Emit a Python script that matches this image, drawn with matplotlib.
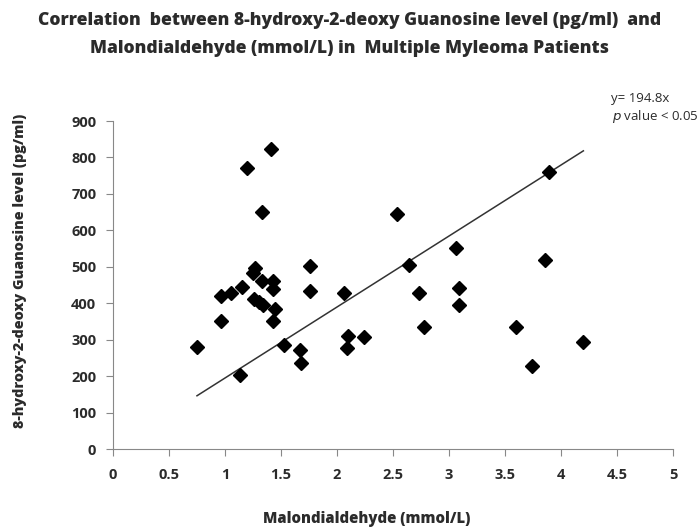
import numpy as np
import matplotlib
matplotlib.use('Agg')
import matplotlib.pyplot as plt

plt.rcParams['font.family'] = ['Open Sans', 'DejaVu Sans']

# Malondialdehyde (mmol/L) vs 8-OHdG (pg/ml)
mda = [0.75, 1.13, 0.96, 1.05, 0.96, 1.15, 1.20, 1.41, 1.33, 1.27,
       1.25, 1.33, 1.43, 1.43, 1.26, 1.30, 1.34, 1.45, 1.43, 1.53,
       1.67, 1.68, 1.76, 1.76, 2.06, 2.10, 2.09, 2.24, 2.54, 3.89,
       2.64, 2.73, 2.78, 3.06, 3.09, 3.09, 3.86, 3.60, 3.74, 4.20]
ohdg = [279, 202, 420, 429, 352, 445, 772, 822, 651, 496,
        482, 461, 461, 438, 411, 403, 394, 383, 352, 285,
        272, 235, 503, 434, 429, 311, 278, 306, 645, 761,
        505, 429, 336, 551, 441, 395, 519, 334, 229, 293]
slope = 194.8

xticks = [0, 0.5, 1, 1.5, 2, 2.5, 3, 3.5, 4, 4.5, 5]
xticklabels = ['0', '0.5', '1', '1.5', '2', '2.5', '3', '3.5', '4', '4.5', '5']
yticks = [0, 100, 200, 300, 400, 500, 600, 700, 800, 900]

txt = '#2b2b2b'
fig = plt.figure(figsize=(7, 5.31), dpi=100)
ax = fig.add_axes([0.1614, 0.1544, 0.8, 0.6177])

ax.plot(mda, ohdg, 'D', color='black', markersize=7.5, zorder=3)
xl = np.array([min(mda), max(mda)])
ax.plot(xl, slope * xl, color='#333333', lw=1.1)

ax.set_xlim(0, 5)
ax.set_ylim(0, 900)
ax.set_xticks(xticks)
ax.set_xticklabels(xticklabels)
ax.set_yticks(yticks)
for s in ['top', 'right']:
    ax.spines[s].set_visible(False)
for s in ['left', 'bottom']:
    ax.spines[s].set_color('#888888')
ax.tick_params(colors='#888888', length=5, labelcolor=txt, labelsize=10.5)
ax.tick_params(axis='x', pad=9)
ax.tick_params(axis='y', pad=7)
for lab in ax.get_xticklabels() + ax.get_yticklabels():
    lab.set_fontweight('bold')

fig.text(0.5, 0.962, 'Correlation  between 8-hydroxy-2-deoxy Guanosine level (pg/ml)  and',
         ha='center', va='center', fontsize=12.6, fontweight=800, color=txt)
fig.text(0.5, 0.908, 'Malondialdehyde (mmol/L) in  Multiple Myleoma Patients',
         ha='center', va='center', fontsize=12.6, fontweight=800, color=txt)
fig.text(0.524, 0.022, 'Malondialdehyde (mmol/L)', ha='center', va='center',
         fontsize=10.7, fontweight=800, color=txt)
fig.text(0.029, 0.49, '8-hydroxy-2-deoxy Guanosine level (pg/ml)', ha='center',
         va='center', rotation=90, fontsize=10.3, fontweight=800, color=txt)

fig.text(0.914, 0.814, 'y= 194.8x', ha='center', va='center', fontsize=9.5, color=txt)
fig.text(0.998, 0.781, r'$\it{p}$ value < 0.05', ha='right', va='center',
         fontsize=9.5, color=txt)

plt.savefig('out.png', dpi=100)
